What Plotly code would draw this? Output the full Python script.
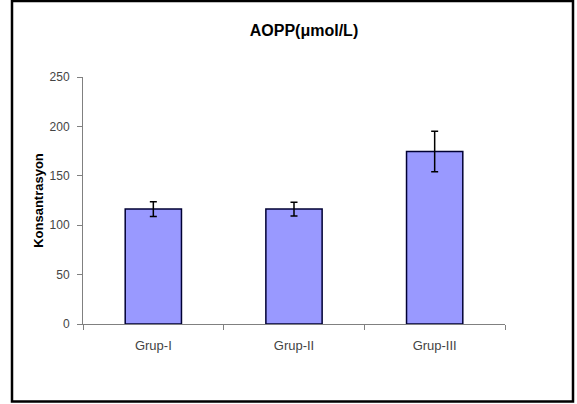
import plotly.graph_objects as go

categories = ["Grup-I", "Grup-II", "Grup-III"]
values = [116.3, 116.3, 174.5]
errors = [7.5, 7.0, 20.5]
y_ticks = [0, 50, 100, 150, 200, 250]

W, H = 577, 404
L, R, T, B = 83, 72, 77, 80

fig = go.Figure()
fig.add_trace(go.Bar(
    x=categories, y=values, width=0.4,
    marker=dict(color="#9999FF", line=dict(color="#000033", width=1.5)),
    error_y=dict(type="data", array=errors, visible=True, color="#000000",
                 thickness=1.5, width=3.5),
))

pw = W - L - R
ph = H - T - B

def px(x):
    return (x - L) / pw

def py(y):
    return (H - B - y) / ph

fig.add_shape(type="rect", xref="paper", yref="paper",
              x0=px(12), x1=px(573), y0=py(401.5), y1=py(1),
              line=dict(color="#000000", width=2.5), fillcolor="rgba(0,0,0,0)",
              layer="above")

fig.update_layout(
    width=W, height=H,
    margin=dict(l=L, r=R, t=T, b=B),
    paper_bgcolor="white", plot_bgcolor="white",
    showlegend=False,
    font=dict(family="Liberation Sans, Arial, sans-serif", size=12, color="#333333"),
    title=dict(text="<b>AOPP(μmol/L)</b>", x=304 / W, xanchor="center",
               y=1 - 30 / H, yanchor="middle",
               font=dict(size=16, color="#000000")),
    bargap=0.6,
)
fig.update_xaxes(
    type="category", showline=True, linecolor="#808080", linewidth=1,
    ticks="outside", ticklen=5, tickcolor="#808080", tickson="boundaries",
    ticklabelstandoff=9,
    showgrid=False, zeroline=False, tickfont=dict(size=13, color="#444444"),
)
fig.update_yaxes(
    range=[0, 250], tickvals=y_ticks, showline=True, linecolor="#808080", linewidth=1,
    ticks="outside", ticklen=5, tickcolor="#808080", showgrid=False, zeroline=False,
    ticklabelstandoff=5,
    tickfont=dict(size=12, color="#444444"),
    title=dict(text="<b>Konsantrasyon</b>", font=dict(size=13, color="#000000"), standoff=3),
)

fig.write_html("out.html", config={"displayModeBar": False},
               post_script="document.body.style.margin='0px';document.body.style.overflow='hidden';")
